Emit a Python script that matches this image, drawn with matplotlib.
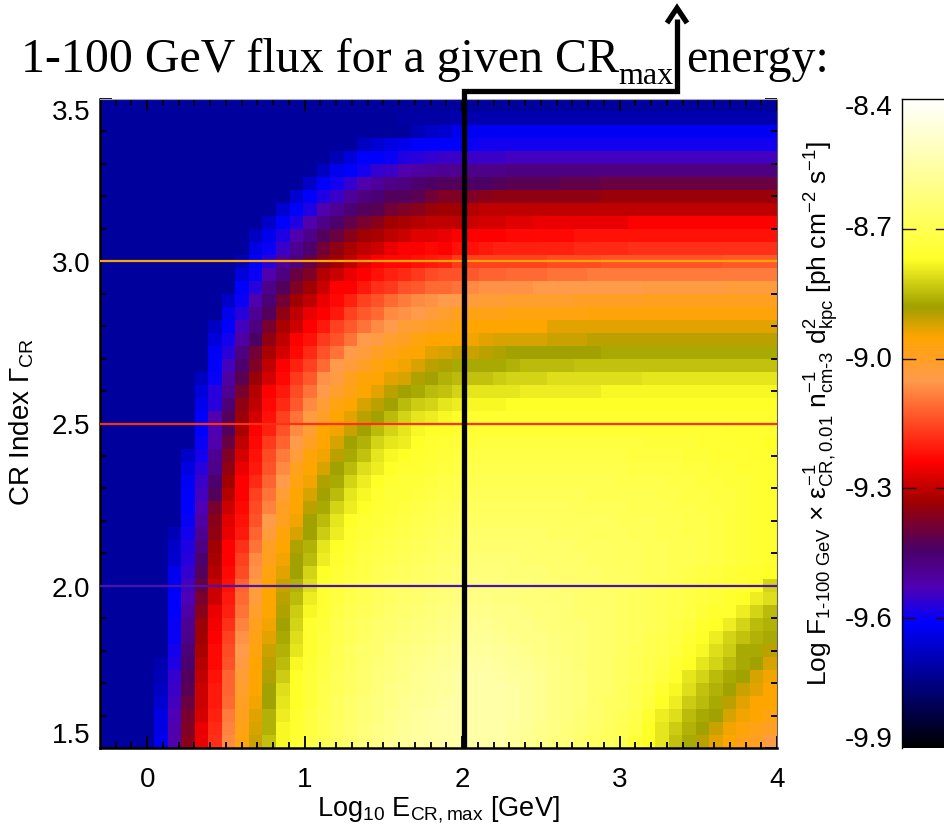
import numpy as np
import matplotlib
matplotlib.use("Agg")
import matplotlib.pyplot as plt
from matplotlib.colors import LinearSegmentedColormap
from matplotlib.lines import Line2D

plt.rcParams["font.family"] = ["Liberation Sans", "DejaVu Sans"]
plt.rcParams["mathtext.fontset"] = "custom"
plt.rcParams["mathtext.rm"] = "Liberation Sans"
plt.rcParams["mathtext.it"] = "Liberation Sans"
plt.rcParams["mathtext.bf"] = "Liberation Sans:bold"

W, H = 945, 829

# -------------------------------
# Data
# -------------------------------

# colour bar anchors: log flux -> colour
cbar_values = [-9.90, -9.61, -9.53, -9.44, -9.33, -9.24, -9.05, -8.95, -8.88, -8.77, -8.40]
cbar_colors = ["#000000", "#0000ff", "#5000b4", "#4b0064", "#a00000", "#ff0000",
               "#ff9b4b", "#ffa500", "#a0a000", "#ffff28", "#ffffff"]
cbar_ticks = [-8.7, -9.0, -9.3, -9.6]
cbar_labels = ["-8.4", "-8.7", "-9.0", "-9.3", "-9.6", "-9.9"]
cbar_label_y = [108, 229, 360, 490, 620, 740]

x_ticks = [0, 1, 2, 3, 4]
y_ticks = [1.5, 2.0, 2.5, 3.0, 3.5]
index_lines = [3.0, 2.5, 2.0]
index_colors = ["#ffa500", "#ff3010", "#4a14aa"]
e_max_marker = 2.015

# flux per cell in 0.01 dex above -9.90, rows from index 3.5 down to 1.5,
# columns from log E = -0.3 up to 4
flux_grid = [
    [18]*50,
    [18]*22 + [19]*4 + [20]*24,
    [18]*23 + [21,23,24] + [27] + [28]*23,
    [18]*19 + [22,24,26,27,29,29,29] + [29,30] + [31]*22,
    [18]*17 + [21,25,29,29,30,32,33,34,35] + [35]*4 + [36]*20,
    [18]*16 + [22,27,29,31,34,35,38,39,40,41] + [41,42,42,42] + [43]*20,
    [18]*15 + [23,29,31,34,38,40,42,43,45,46,47] + [47,46,46,47] + [48]*4 + [49]*3 + [50]*13,
    [18]*14 + [24,29,32,35,40,43,44,47,47,48,51,53] + [53,53,54] + [55]*8 + [56]*13,
    [18]*13 + [24,29,32,38,41,44,47,48,51,53,54,56,57] + [57,59] + [60]*22,
    [18]*12 + [23,29,32,38,42,45,49,52,54,57,58,59,60,60] + [60,61,62,62,63,63] + [64]*7 + [66]*11,
    [18]*11 + [22,27,32,38,42,47,50,54,57,58,60,61,63,63,64] + [66]*4 + [67]*5 + [68]*15,
    [18]*11 + [26,30,35,41,45,51,55,58,60,61,64,66,66,67,66] + [68,68,69] + [70]*6 + [71]*4 + [72]*11,
    [18]*10 + [21,29,33,40,43,49,54,57,60,63,66,67,67,68,69,70] + [73] + [74]*6 + [75]*4 + [76]*9 + [77]*4,
    [18]*10 + [25,30,38,43,50,53,59,61,64,66,68,70,71,73,75,76] + [76,77,78,78] + [79]*3 + [80]*3 + [81]*14,
    [18]*10 + [29,33,42,47,53,57,61,66,66,69,72,73,76,77,79,79] + [80,83,84,84,84,84] + [85]*8 + [86]*6 + [87]*4,
    [18]*9 + [23,30,38,44,51,57,60,64,67,70,74,76,79,81,83,84,85] + [85,87,88,88] + [89]*5 + [90]*5 + [91]*10,
    [18]*9 + [27,33,41,47,55,60,64,66,69,74,77,79,83,84,85,87,89] + [91,92,92,92] + [93]*6 + [94]*14,
    [18]*8 + [22,29,36,43,52,58,61,66,69,74,77,80,83,85,88,89,90,91] + [93] + [95]*6 + [97]*17,
    [18]*8 + [25,31,39,46,55,60,66,68,73,76,80,85,86,89,90,93,95,95] + [95,96,97,98] + [98]*3 + [99]*3 + [100]*14,
    [18]*8 + [28,33,43,51,58,62,67,71,76,80,85,87,90,92,94,95,97,98] + [99,99,100,101] + [102]*7 + [103]*13,
    [18]*8 + [29,36,45,53,60,66,70,74,79,85,87,90,93,95,96,98,100,101] + [103,103,103,103,104] + [105]*4 + [106]*15,
    [18]*7 + [22,30,39,48,56,62,67,73,77,84,86,91,94,95,97,98,101,102,104] + [105,106,106,107] + [108]*3 + [109]*7 + [110]*10,
    [18]*7 + [25,33,41,52,59,66,69,75,80,85,89,92,95,97,100,102,103,105,106] + [108,110,110,110,110] + [111]*6 + [112]*13,
    [18]*7 + [27,33,44,55,60,67,71,77,83,88,93,95,98,100,102,105,107,108,110] + [111,112,112,112] + [113]*20,
    [18]*7 + [29,38,47,56,62,68,74,80,86,90,95,97,100,102,105,108,110,111,112] + [113] + [114]*23,
    [18]*7 + [29,37,47,58,66,70,76,83,88,95,96,99,102,105,108,110,112,113,113] + [114] + [115]*19 + [114]*4,
    [18]*7 + [30,38,50,60,67,73,78,85,90,95,98,102,104,108,110,111,113,114,115] + [116]*2 + [117]*12 + [116]*4 + [115]*3 + [114]*2 + [113],
    [18]*6 + [23,31,41,53,62,68,75,81,87,94,96,100,103,106,110,112,113,114,115,116] + [117] + [118]*12 + [117]*4 + [116]*2 + [115]*3 + [114]*2,
    [18]*6 + [26,33,42,55,64,69,76,83,91,95,98,102,105,109,111,113,115,115,116,117] + [118] + [119]*12 + [118]*4 + [117]*2 + [116]*2 + [115]*2 + [114],
    [18]*6 + [28,35,45,57,66,71,78,85,93,96,101,103,108,111,113,115,116,116,117,118] + [119] + [120]*11 + [119]*4 + [118]*2 + [117]*2 + [116]*2 + [115,114],
    [18]*6 + [29,36,47,59,66,74,80,88,95,98,102,105,110,112,114,116,116,117,118,119] + [120] + [121]*9 + [120]*5 + [119]*2 + [118]*2 + [117]*2 + [116,115,114],
    [18]*6 + [29,37,52,61,67,75,82,90,95,100,103,108,111,113,115,116,117,118,119,120] + [121] + [122]*8 + [121]*4 + [120]*3 + [119]*2 + [118]*2 + [117,116,115,114],
    [18]*6 + [30,39,54,63,68,76,85,91,96,102,105,110,113,115,116,117,118,119,120,121] + [122] + [123]*7 + [122]*4 + [121]*3 + [120]*2 + [119]*2 + [118,117,116,115,114],
    [18]*5 + [21,31,41,55,64,69,78,87,94,98,102,107,111,114,116,117,118,119,120,121,122] + [123] + [124]*6 + [123]*3 + [122]*3 + [121]*2 + [120]*2 + [119]*2 + [118,117,116,115,114],
    [18]*5 + [23,32,43,57,66,72,80,90,95,101,104,110,113,115,117,118,119,120,121,122,123] + [124] + [125]*5 + [124]*3 + [123]*3 + [122]*2 + [121]*2 + [120]*2 + [119,118,117,116,115,114],
    [18]*5 + [24,33,45,58,66,74,83,91,96,102,105,111,114,116,118,119,120,121,122,123,124] + [125] + [126]*4 + [125]*3 + [124]*2 + [123]*2 + [122]*2 + [121]*2 + [120]*2 + [119,118,117,116,115,114],
    [18]*5 + [27,34,47,59,67,75,84,93,97,102,108,113,115,117,118,120,121,122,123,124,125] + [126] + [127]*3 + [126]*3 + [125]*2 + [124]*2 + [123]*2 + [122] + [121]*2 + [120,119,118,117,116,115,114,113],
    [18]*5 + [28,36,50,61,68,78,87,95,99,104,109,114,116,118,119,121,122,123,124,125,126] + [127,128,128,128,127,127,126,126,125,125,124,123,123,122,121,120,119,118,117,116,115,114,113,108],
    [18]*5 + [29,37,52,61,69,79,87,95,100,105,111,115,117,119,120,122,123,124,125,126,127] + [128,129,129,128,128,127,127,126,126,125,124,124,123,122,121,120,119,118,117,116,114,113,111,109],
    [18]*5 + [29,39,54,64,70,80,89,95,101,107,112,115,118,120,121,123,124,125,126,127,128] + [129,130,130,129,129,128,127,127,126,125,125,124,123,122,121,120,119,118,116,114,114,111,108,105],
    [18]*5 + [30,41,56,65,72,82,91,96,102,108,114,116,119,121,122,124,125,126,127,128,129] + [130,131,131,130,129,129,128,127,126,126,125,124,123,122,121,120,118,117,114,113,111,108,105,104],
    [18]*5 + [30,42,57,66,74,84,92,97,103,109,114,117,119,121,123,125,126,127,128,129,130] + [131,132,132,131,130,129,129,128,127,126,125,124,123,122,120,119,118,115,113,111,108,106,104,103],
    [18]*5 + [31,44,58,67,75,85,93,99,104,110,114,117,120,122,124,125,127,128,129,130,131] + [132,133,133,132,131,130,129,128,127,126,125,124,123,121,120,119,117,114,112,109,107,103,103,100],
    [18]*4 + [20,32,45,59,67,76,86,95,100,105,112,115,118,120,122,124,126,127,129,130,131,132] + [133,134,134,133,132,131,130,129,128,126,125,124,122,121,119,118,115,113,110,108,105,103,102,98],
    [18]*4 + [21,34,47,60,68,78,88,95,101,107,113,116,118,121,123,125,127,128,129,131,132,133] + [134,135,135,134,133,132,131,129,128,127,125,124,122,121,119,117,114,110,108,105,103,102,98,96],
    [18]*4 + [22,35,48,61,69,78,89,95,102,109,113,116,119,121,123,125,127,129,130,131,132,133] + [134,135,135,135,134,132,131,129,128,127,125,124,122,120,118,114,112,109,106,104,102,99,97,95],
    [18]*4 + [24,36,50,61,69,79,90,96,102,110,113,116,119,122,124,126,128,129,131,132,133,134] + [135,135,135,135,134,132,131,129,128,127,125,123,122,120,117,113,111,107,105,103,100,97,95,95],
    [18]*4 + [26,37,52,62,70,81,91,97,104,111,114,117,120,122,124,126,128,130,131,133,134,135] + [135,135,135,135,134,132,131,129,128,126,125,123,121,119,114,111,109,105,103,102,98,96,95,93],
    [18]*4 + [26,38,53,64,71,82,92,98,104,112,114,117,120,123,125,127,129,130,132,133,134,135] + [135,135,135,135,133,132,130,129,127,126,124,122,120,118,113,110,107,104,102,99,96,94,92,90],
    [18]*4 + [27,38,54,64,72,83,93,99,106,112,115,118,120,123,125,127,129,131,132,134,134,135] + [135,135,135,135,133,131,130,128,127,125,123,122,120,116,113,110,106,103,100,97,95,92,90,86],
]


def fx(px):
    return px / W


def fy(py):
    return 1 - py / H


# -------------------------------
# Colour map
# -------------------------------
vmin, vmax = cbar_values[0], cbar_values[-1]
anchors = [(v - vmin) / (vmax - vmin) for v in cbar_values]
cmap = LinearSegmentedColormap.from_list("flux", list(zip(anchors, cbar_colors)), N=512)

fig = plt.figure(figsize=(W / 100, H / 100), dpi=100)

# -------------------------------
# Main panel
# -------------------------------
ax = fig.add_axes([fx(100), fy(749), (777 - 100) / W, (749 - 100) / H])
log_flux = -9.9 + np.array(flux_grid) / 100.0
x_edges = np.linspace(-0.3, 4.0, log_flux.shape[1] + 1)
y_edges = np.linspace(3.5, 1.5, log_flux.shape[0] + 1)
ax.pcolormesh(x_edges, y_edges, log_flux, cmap=cmap, vmin=vmin, vmax=vmax, linewidth=0, rasterized=True)
ax.set_xlim(-0.3, 4.0)
ax.set_ylim(1.5, 3.5)

for level, color in zip(index_lines, index_colors):
    ax.axhline(level, color=color, lw=1.6, zorder=3)

ax.set_xticks(x_ticks)
ax.set_yticks(y_ticks)
ax.set_xticks(np.arange(-0.2, 4.0, 0.1), minor=True)
ax.set_yticks(np.arange(1.6, 3.45, 0.1), minor=True)
ax.tick_params(which="major", direction="in", length=8.6, width=1.3, top=True, right=True, labelsize=20, pad=7)
ax.tick_params(which="minor", direction="in", length=4.5, width=1.3, top=True, right=True)
ax.tick_params(axis="x", which="major", pad=13)
ylabels = ax.get_yticklabels()
ylabels[0].set_verticalalignment("bottom")
ylabels[-1].set_verticalalignment("top")

ax.spines["left"].set_linewidth(1.8)
ax.spines["bottom"].set_linewidth(1.8)
ax.spines["top"].set_linewidth(0.8)
ax.spines["top"].set_color("#a8a8a8")
ax.spines["right"].set_linewidth(0.8)
ax.spines["right"].set_color("#606060")

fig.text(fx(438.5), fy(810), r"Log$_{10}$ E$_{\mathrm{CR,max}}$ [GeV]", fontsize=19.5, ha="center", va="center")
fig.text(fx(22), fy(422), r"CR Index $\Gamma_{\mathrm{CR}}$", fontsize=20, rotation=90, ha="center", va="center")

# -------------------------------
# Colour bar, runs off the right edge as in the original
# -------------------------------
cax = fig.add_axes([fx(902), fy(749), (945 - 902) / W, (749 - 100) / H])
levels = np.linspace(vmin, vmax, 512).reshape(-1, 1)
cax.imshow(levels, aspect="auto", cmap=cmap, vmin=vmin, vmax=vmax, origin="lower", extent=[0, 1, vmin, vmax])
cax.set_xlim(0, 1)
cax.set_ylim(vmin, vmax)
cax.set_xticks([])
cax.set_yticks([])
cax.hlines(cbar_ticks, 0, 1, colors="#201010", linewidth=1.0, linestyles=(0, (10, 14)))
for side in ["left", "top"]:
    cax.spines[side].set_linewidth(1.0)
for side in ["right", "bottom"]:
    cax.spines[side].set_visible(False)

for label, py in zip(cbar_labels, cbar_label_y):
    fig.text(fx(893), fy(py), label, fontsize=20, ha="right", va="center")

fig.text(fx(822), fy(413),
         r"Log F$_{\mathrm{1\text{-}100\ GeV}}$ $\times$ $\varepsilon^{-1}_{\mathrm{CR,0.01}}$ "
         r"n$^{-1}_{\mathrm{cm\text{-}3}}$ d$^{2}_{\mathrm{kpc}}$ [ph cm$^{-2}$ s$^{-1}$]",
         fontsize=19, rotation=90, ha="center", va="center")

# -------------------------------
# Overlaid heading and marker line
# -------------------------------
serif = ["Liberation Serif", "DejaVu Serif"]
fig.text(fx(21), fy(72), "1-100 GeV flux for a given CR", fontsize=34.5, family=serif, ha="left", va="baseline")
fig.text(fx(618), fy(84), "max", fontsize=23, family=serif, ha="left", va="baseline")
fig.text(fx(686), fy(72), "energy:", fontsize=34.5, family=serif, ha="left", va="baseline")

# the marker runs from the panel up and over to the arrow
x_px = 100 + (e_max_marker + 0.3) / 4.3 * 677
fig.add_artist(Line2D([fx(x_px), fx(x_px), fx(677), fx(677)], [fy(749), fy(92), fy(92), fy(20)],
                      color="black", lw=3.8, solid_joinstyle="miter", solid_capstyle="butt"))
fig.add_artist(Line2D([fx(667), fx(677), fx(687)], [fy(24), fy(9), fy(24)],
                      color="black", lw=3.8, solid_joinstyle="miter", solid_capstyle="butt"))

fig.savefig("out.png", dpi=100)
